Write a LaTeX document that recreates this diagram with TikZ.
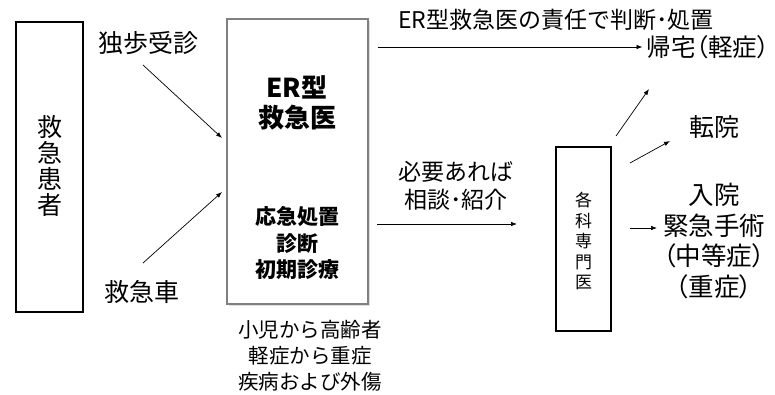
\documentclass[tikz,border=0pt]{standalone}
\usepackage{fontspec}
\setmainfont{Noto Sans CJK JP}
\newfontfamily\jpprop[RawFeature=+palt]{Noto Sans CJK JP}
\usetikzlibrary{arrows.meta,shadows}

\tikzset{
  arr/.style={-{Latex[length=6pt,width=4.5pt]}, line width=0.7pt},
  box/.style={draw, line width=1.6pt, inner sep=0pt},
  lbl/.style={align=center, inner sep=1pt},
}

\begin{document}
\begin{tikzpicture}[x=1pt,y=-1pt]
\useasboundingbox (0,0) rectangle (775,394);

% Patient box
\node[box, minimum width=67pt, minimum height=290pt] (patient) at (49.5,167) {};
\node[lbl, font=\fontsize{25}{26}\selectfont] (patient-txt) at (49.5,166) {救\\急\\患\\者};

% ER doctor box
\node[draw=gray, line width=1.2pt, minimum width=141pt, minimum height=285pt,
      fill=white, drop shadow={opacity=0.25, shadow xshift=2pt, shadow yshift=-2pt}] (er) at (297.5,161.5) {};
\node[lbl, font=\fontsize{26}{30}\selectfont\bfseries] (er-title) at (297,103) {ER型\\救急医};
\node[lbl, font=\fontsize{21}{26.5}\selectfont\bfseries] (er-tasks) at (297,243) {応急処置\\診断\\初期診療};
\node[lbl, font=\fontsize{20.5}{26}\selectfont] (er-scope) at (310,356) {小児から高齢者\\軽症から重症\\疾病および外傷};

% Arrival routes
\node[lbl, font=\fontsize{25}{30}\selectfont] (dokuho) at (148,43) {独歩受診};
\node[lbl, font=\fontsize{25}{30}\selectfont] (ambulance) at (142,292) {救急車};
\coordinate (walk-tail) at (143,65);
\coordinate (walk-head) at (222,138);
\coordinate (amb-tail) at (143,263);
\coordinate (amb-head) at (222,192);
\draw[arr] (walk-tail) -- (walk-head);
\draw[arr] (amb-tail) -- (amb-head);

% Discharge
\node[lbl, font=\fontsize{23}{26}\selectfont] (resp) at (556,20) {ER型救急医の責任で判断･処置};
\node[lbl, font=\fontsize{24.5}{28}\jpprop] (kitaku) at (708,47) {帰宅（軽症）};
\draw[arr, shorten <=9pt, shorten >=3pt] (er.east |- kitaku) -- (kitaku.west);

% Specialist
\node[lbl, font=\fontsize{23}{28}\selectfont] (soudan) at (456,186) {必要あれば\\相談･紹介};
\node[box, minimum width=55pt, minimum height=184pt] (senmon) at (583.5,239) {};
\node[lbl, font=\fontsize{17}{20.5}\selectfont] (senmon-txt) at (583.5,241) {各\\科\\専\\門\\医};
\coordinate (refer-tail) at (377,224);
\coordinate (refer-head) at (517,224);
\draw[arr] (refer-tail) -- (refer-head);

% Outcomes
\node[lbl, font=\fontsize{25}{30}\selectfont] (tenin) at (714,127) {転院};
\node[lbl, font=\fontsize{25.5}{30.5}\jpprop] (nyuin) at (714,241) {入院\\緊急手術\\（中等症）\\（重症）};
\coordinate (home-tail) at (616,136);
\coordinate (home-head) at (649,89);
\coordinate (trans-tail) at (630,163);
\coordinate (trans-head) at (670,141);
\coordinate (admit-tail) at (630,228);
\coordinate (admit-head) at (657,228);
\draw[arr] (home-tail) -- (home-head);
\draw[arr] (trans-tail) -- (trans-head);
\draw[arr] (admit-tail) -- (admit-head);

\end{tikzpicture}
\end{document}
